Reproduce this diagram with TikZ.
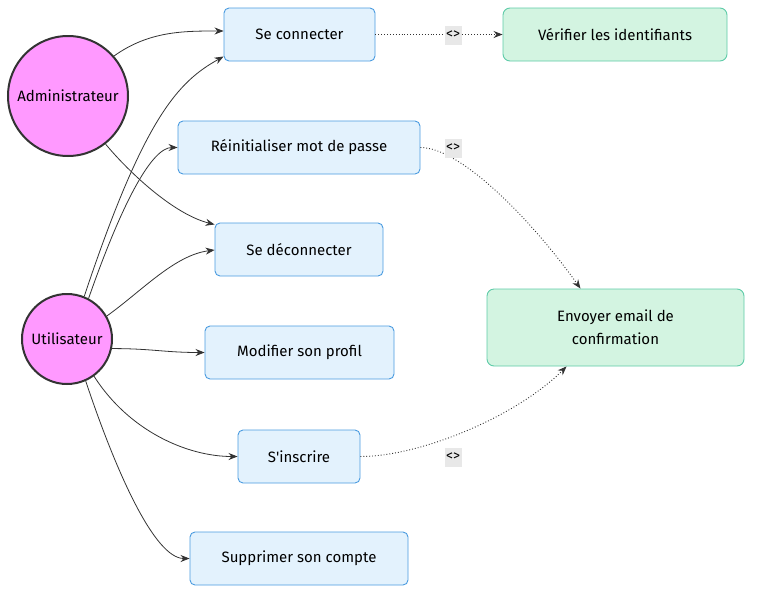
\documentclass[tikz,border=0pt]{standalone}
\usepackage{fontspec}
\setmainfont{Fira Sans}
\usetikzlibrary{arrows.meta}
\definecolor{actfill}{HTML}{FF99FF}
\definecolor{actline}{HTML}{333333}
\definecolor{ucfill}{HTML}{E3F2FD}
\definecolor{ucline}{HTML}{4A9BE0}
\definecolor{exfill}{HTML}{D3F4E1}
\definecolor{exline}{HTML}{5ECBA8}
\definecolor{lblbg}{HTML}{E8E8E8}
\begin{document}
\begin{tikzpicture}[x=1pt,y=-1pt,
  font=\fontsize{15}{23}\selectfont,
  actor/.style={circle,draw=actline,fill=actfill,line width=2pt,inner sep=0pt,text=black},
  usecase/.style={draw=ucline,fill=ucfill,rounded corners=5pt,line width=0.9pt,minimum height=53pt,inner sep=0pt},
  extcase/.style={draw=exline,fill=exfill,rounded corners=7pt,line width=0.9pt,inner sep=0pt},
  link/.style={draw=actline,line width=0.8pt,-{Stealth[length=9pt,width=7pt]}},
  dlink/.style={draw=actline,line width=0.9pt,dotted,-{Stealth[length=9pt,width=7pt]}},
  lbl/.style={fill=lblbg,font=\fontsize{14}{16}\selectfont,inner sep=1pt,minimum height=19pt,minimum width=17pt}]
\useasboundingbox (0,0) rectangle (760,600);
% actors
\node[actor,minimum size=120pt] (adm) at (68,96) {Administrateur};
\node[actor,minimum size=90pt] (usr) at (67,339) {Utilisateur};
% use cases
\node[usecase,minimum width=151pt] (sc) at (299.5,34.5) {Se connecter};
\node[extcase,minimum width=224pt,minimum height=53pt] (vi) at (615,34.5) {Vérifier les identifiants};
\node[usecase,minimum width=242pt] (rm) at (299,147.5) {Réinitialiser mot de passe};
\node[usecase,minimum width=168pt] (sd) at (299,249.5) {Se déconnecter};
\node[usecase,minimum width=189pt] (mp) at (299.5,352.5) {Modifier son profil};
\node[usecase,minimum width=122pt] (si) at (299,456.5) {S\textquotesingle inscrire};
\node[usecase,minimum width=218pt] (su) at (299,558.5) {Supprimer son compte};
\node[extcase,minimum width=257pt,minimum height=77pt,align=center] (ec) at (615.5,327.5) {Envoyer email de\\confirmation};
% actor links
\draw[link] (adm.41) .. controls +(35,-25) and +(-40,0) .. ([yshift=3.5pt]sc.west);
\draw[link] (usr.68) .. controls +(60,-180) and +(-45,25) .. ([yshift=-22pt]sc.west);
\draw[link] (usr.62) .. controls +(35,-100) and +(-25,0) .. (rm.west);
\draw[link] (adm.-52) .. controls +(25,30) and +(-40,-10) .. ([yshift=25pt]sd.west);
\draw[link] (usr.30) .. controls +(35,-25) and +(-40,5) .. ([yshift=-0.5pt]sd.west);
\draw[link] (usr.-12) .. controls +(40,0) and +(-40,0) .. (mp.west);
\draw[link] (usr.-54) .. controls +(35,55) and +(-50,0) .. (si.west);
\draw[link] (usr.-66) .. controls +(30,90) and +(-35,0) .. (su.west);
% extend links
\draw[dlink] (sc.east) -- (vi.west);
\draw[dlink] (rm.east) .. controls +(40,0) and +(-50,-70) .. ([xshift=-35pt]ec.north);
\draw[dlink] (si.east) .. controls +(60,0) and +(-50,50) .. ([xshift=-49pt]ec.south);
% labels
\node[lbl] (l1) at (453,35) {<>};
\node[lbl] (l2) at (453,148) {<>};
\node[lbl] (l3) at (453,457) {<>};
\end{tikzpicture}
\end{document}
